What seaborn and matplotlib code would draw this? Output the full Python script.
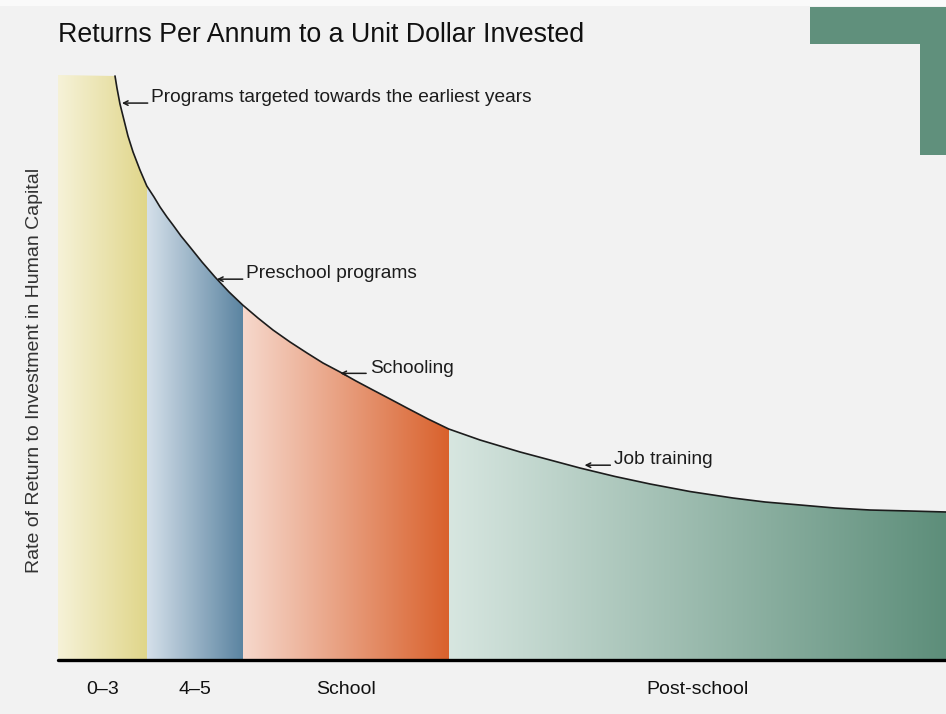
import numpy as np
import matplotlib
matplotlib.use('Agg')
import matplotlib.pyplot as plt
from matplotlib.colors import LinearSegmentedColormap
from matplotlib.patches import Polygon, Rectangle
import seaborn as sns

title = 'Returns Per Annum to a Unit Dollar Invested'
y_label = 'Rate of Return to Investment in Human Capital'

# curve (x: 0-100 along the axis, y: 0-100 up the axis)
curve_x = [6.42, 6.64, 6.98, 7.43, 7.88, 8.45, 9.23, 10.0, 10.81, 11.49, 12.27, 12.95,
           13.85, 14.86, 16.22, 17.68, 19.26, 20.8, 22.52, 24.21, 26.13, 28.04, 29.84,
           31.76, 33.56, 35.47, 37.39, 39.30, 41.67, 44.0, 47.52, 52.03, 55.41, 58.78,
           62.73, 66.67, 71.17, 76.01, 79.62, 83.56, 87.50, 91.44, 95.95, 100.0]
curve_y = [99.83, 97.78, 95.04, 92.31, 89.57, 86.84, 83.76, 81.03, 79.15, 77.44, 75.73, 74.36,
           72.48, 70.60, 68.03, 65.47, 62.91, 60.68, 58.46, 56.41, 54.36, 52.48, 50.77,
           49.23, 47.69, 46.15, 44.62, 43.08, 41.20, 39.49, 37.61, 35.56, 34.19, 32.82,
           31.37, 30.09, 28.80, 27.69, 27.01, 26.50, 25.98, 25.64, 25.47, 25.30]

stages = ['0–3', '4–5', 'School', 'Post-school']
stage_edges = [0, 10.0, 20.8, 44.0, 100]
stage_light = ['#f6f2d8', '#d5e0ea', '#f6d8cc', '#d7e6e0']
stage_dark = ['#e0d68a', '#5b84a1', '#d9612c', '#5d8e7a']

notes = ['Programs targeted towards the earliest years', 'Preschool programs',
         'Schooling', 'Job training']
note_x = [7.2, 17.9, 31.8, 59.3]
note_y = [95.2, 65.1, 49.0, 33.3]

sns.set_theme(style='white')
plt.rcParams['font.family'] = ['Liberation Sans', 'DejaVu Sans']
bg = '#f2f2f2'
ink = '#1c1c1c'

fig = plt.figure(figsize=(9.46, 7.14), dpi=100, facecolor=bg)
ax = fig.add_axes([58 / 946, 54 / 714, 888 / 946, 585 / 714])
ax.set_facecolor(bg)
ax.set_xlim(0, 100)
ax.set_ylim(0, 100)

# area under the curve, used to clip the gradient bands
verts = [(0, 0), (0, 100)] + list(zip(curve_x, curve_y)) + [(100, 0)]
area = Polygon(verts, closed=True, facecolor='none', edgecolor='none')
ax.add_patch(area)

ramp = np.linspace(0, 1, 256)[None, :]
for i in range(len(stages)):
    cmap = LinearSegmentedColormap.from_list('s%d' % i, [stage_light[i], stage_dark[i]])
    im = ax.imshow(ramp, cmap=cmap, aspect='auto', interpolation='bilinear',
                   extent=[stage_edges[i], stage_edges[i + 1], 0, 100], zorder=1)
    im.set_clip_path(area)

sns.lineplot(x=curve_x, y=curve_y, sort=False, color=ink, linewidth=1.2, ax=ax, zorder=3)

# short arrows pointing at the curve, label to the right
for txt, x, y in zip(notes, note_x, note_y):
    ax.annotate('', xy=(x, y), xytext=(x + 2.9, y),
                arrowprops=dict(arrowstyle='->', color=ink, lw=1.1,
                                shrinkA=0, shrinkB=0, mutation_scale=8))
    ax.text(x + 3.3, y + 0.9, txt, ha='left', va='center', fontsize=13.8, color=ink)

ax.axhline(0, color='black', linewidth=2.4, zorder=4, clip_on=False)
for s in ax.spines.values():
    s.set_visible(False)

centers = [(stage_edges[i] + stage_edges[i + 1]) / 2 for i in range(len(stages))]
ax.set_xticks(centers)
ax.set_xticklabels(stages, fontsize=14, color='#111111')
ax.tick_params(axis='x', length=0, pad=15)
ax.set_yticks([])

fig.text(58 / 946, 1 - 35 / 714, title, ha='left', va='center', fontsize=19.3, color='#111111')
fig.text(35 / 946, 1 - 370 / 714, y_label, rotation=90, ha='center', va='center',
         fontsize=14, color='#333333')

# green corner decoration
fig.patches.append(Rectangle((0, 1 - 6 / 714), 1, 6 / 714, transform=fig.transFigure,
                             facecolor='#fafafa', edgecolor='none'))
fig.patches.append(Rectangle((810 / 946, 1 - 44 / 714), 136 / 946, 37 / 714,
                             transform=fig.transFigure, facecolor='#60907c', edgecolor='none'))
fig.patches.append(Rectangle((920 / 946, 1 - 155 / 714), 26 / 946, 148 / 714,
                             transform=fig.transFigure, facecolor='#60907c', edgecolor='none'))

fig.savefig('out.png', dpi=100, facecolor=bg)
